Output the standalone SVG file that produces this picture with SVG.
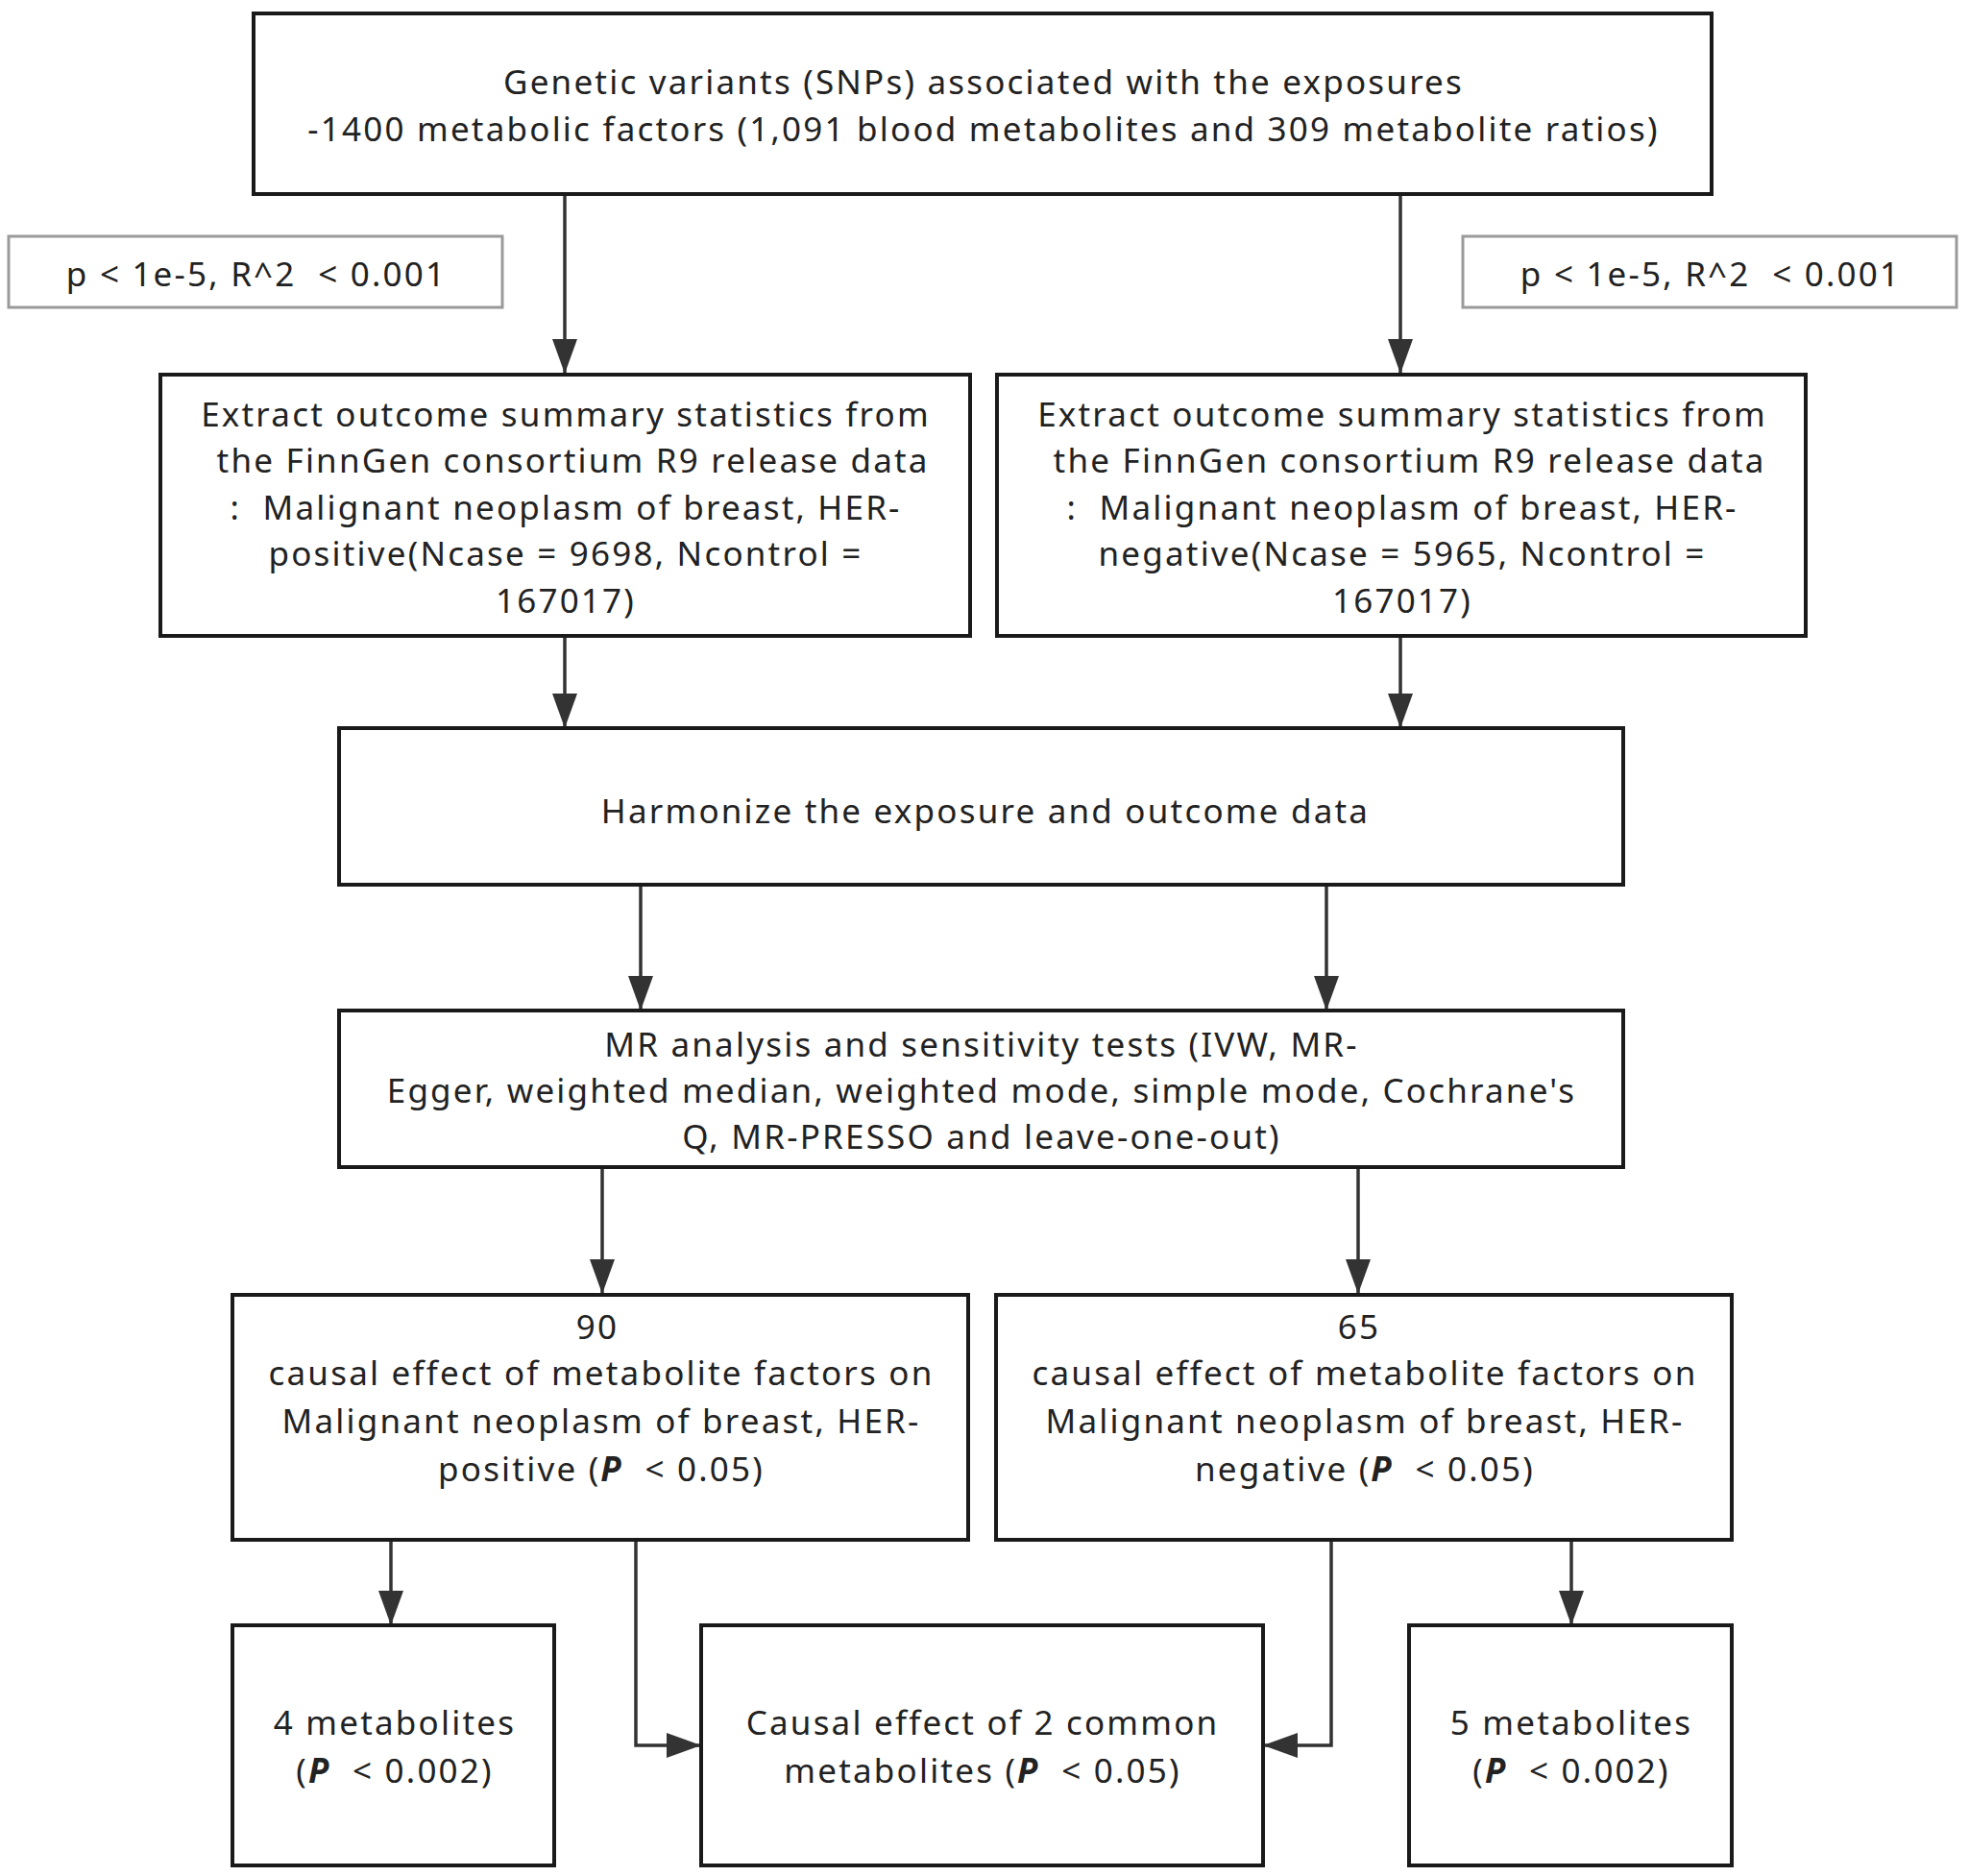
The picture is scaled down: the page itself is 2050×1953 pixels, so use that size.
<svg xmlns="http://www.w3.org/2000/svg" width="2050" height="1953" viewBox="0 0 2050 1953">
<defs>
<style>
.box{fill:#fff;stroke:#1a1a1a;stroke-width:4}
.thr{fill:#fff;stroke:#9a9a9a;stroke-width:3}
.t{font-family:"Noto Sans","Open Sans",sans-serif;font-size:35px;letter-spacing:2.2px;fill:#222;text-anchor:middle;white-space:pre}
.c{fill:none;stroke:#333;stroke-width:3.5}
.b{font-weight:bold;font-style:italic}
</style>
<marker id="ah" markerUnits="userSpaceOnUse" markerWidth="36" markerHeight="26" refX="35" refY="13" orient="auto">
<path d="M0,0 L36,13 L0,26 Z" fill="#333"/>
</marker>
</defs>
<rect width="2050" height="1953" fill="#fff"/>
<g id="connectors">
<line class="c" x1="588" y1="202" x2="588" y2="388" marker-end="url(#ah)"/>
<line class="c" x1="1458" y1="202" x2="1458" y2="388" marker-end="url(#ah)"/>
<line class="c" x1="588" y1="662" x2="588" y2="757" marker-end="url(#ah)"/>
<line class="c" x1="1458" y1="662" x2="1458" y2="757" marker-end="url(#ah)"/>
<line class="c" x1="667" y1="921" x2="667" y2="1051" marker-end="url(#ah)"/>
<line class="c" x1="1381" y1="921" x2="1381" y2="1051" marker-end="url(#ah)"/>
<line class="c" x1="627" y1="1215" x2="627" y2="1346" marker-end="url(#ah)"/>
<line class="c" x1="1414" y1="1215" x2="1414" y2="1346" marker-end="url(#ah)"/>
<line class="c" x1="407" y1="1603" x2="407" y2="1691" marker-end="url(#ah)"/>
<line class="c" x1="1636" y1="1603" x2="1636" y2="1691" marker-end="url(#ah)"/>
<polyline class="c" points="662,1603 662,1817 729,1817" marker-end="url(#ah)"/>
<polyline class="c" points="1386,1603 1386,1817 1316,1817" marker-end="url(#ah)"/>
</g>
<g id="top">
<rect class="box" x="264" y="14" width="1518" height="188"/>
<text class="t" x="1024" y="98">Genetic variants (SNPs) associated with the exposures</text>
<text class="t" x="1024" y="147">-1400 metabolic factors (1,091 blood metabolites and 309 metabolite ratios)</text>
</g>
<g id="thr-left">
<rect class="thr" x="9" y="246" width="514" height="74"/>
<text class="t" x="267" y="298">p &lt; 1e-5, R^2  &lt; 0.001</text>
</g>
<g id="thr-right">
<rect class="thr" x="1523" y="246" width="514" height="74"/>
<text class="t" x="1781" y="298">p &lt; 1e-5, R^2  &lt; 0.001</text>
</g>
<g id="extract-pos">
<rect class="box" x="167" y="390" width="843" height="272"/>
<text class="t" x="589" y="444">Extract outcome summary statistics from</text>
<text class="t" x="591" y="492"> the FinnGen consortium R9 release data</text>
<text class="t" x="589" y="541">:  Malignant neoplasm of breast, HER-</text>
<text class="t" x="589" y="589">positive(Ncase = 9698, Ncontrol =</text>
<text class="t" x="589" y="638">167017)</text>
</g>
<g id="extract-neg">
<rect class="box" x="1038" y="390" width="842" height="272"/>
<text class="t" x="1460" y="444">Extract outcome summary statistics from</text>
<text class="t" x="1462" y="492"> the FinnGen consortium R9 release data</text>
<text class="t" x="1460" y="541">:  Malignant neoplasm of breast, HER-</text>
<text class="t" x="1460" y="589">negative(Ncase = 5965, Ncontrol =</text>
<text class="t" x="1460" y="638">167017)</text>
</g>
<g id="harmonize">
<rect class="box" x="353" y="758" width="1337" height="163"/>
<text class="t" x="1026" y="857">Harmonize the exposure and outcome data</text>
</g>
<g id="mr">
<rect class="box" x="353" y="1052" width="1337" height="163"/>
<text class="t" x="1022" y="1100">MR analysis and sensitivity tests (IVW, MR-</text>
<text class="t" x="1022" y="1148">Egger, weighted median, weighted mode, simple mode, Cochrane's</text>
<text class="t" x="1022" y="1196">Q, MR-PRESSO and leave-one-out)</text>
</g>
<g id="res-pos">
<rect class="box" x="242" y="1348" width="766" height="255"/>
<text class="t" x="622" y="1394">90</text>
<text class="t" x="626" y="1442">causal effect of metabolite factors on</text>
<text class="t" x="626" y="1492">Malignant neoplasm of breast, HER-</text>
<text class="t" x="626" y="1542">positive (<tspan class="b">P</tspan>  &lt; 0.05)</text>
</g>
<g id="res-neg">
<rect class="box" x="1037" y="1348" width="766" height="255"/>
<text class="t" x="1415" y="1394">65</text>
<text class="t" x="1421" y="1442">causal effect of metabolite factors on</text>
<text class="t" x="1421" y="1492">Malignant neoplasm of breast, HER-</text>
<text class="t" x="1421" y="1542">negative (<tspan class="b">P</tspan>  &lt; 0.05)</text>
</g>
<g id="four">
<rect class="box" x="242" y="1692" width="335" height="250"/>
<text class="t" x="411" y="1806">4 metabolites</text>
<text class="t" x="411" y="1856">(<tspan class="b">P</tspan>  &lt; 0.002)</text>
</g>
<g id="common">
<rect class="box" x="730" y="1692" width="585" height="250"/>
<text class="t" x="1023" y="1806">Causal effect of 2 common</text>
<text class="t" x="1023" y="1856">metabolites (<tspan class="b">P</tspan>  &lt; 0.05)</text>
</g>
<g id="five">
<rect class="box" x="1467" y="1692" width="336" height="250"/>
<text class="t" x="1636" y="1806">5 metabolites</text>
<text class="t" x="1636" y="1856">(<tspan class="b">P</tspan>  &lt; 0.002)</text>
</g>
</svg>
